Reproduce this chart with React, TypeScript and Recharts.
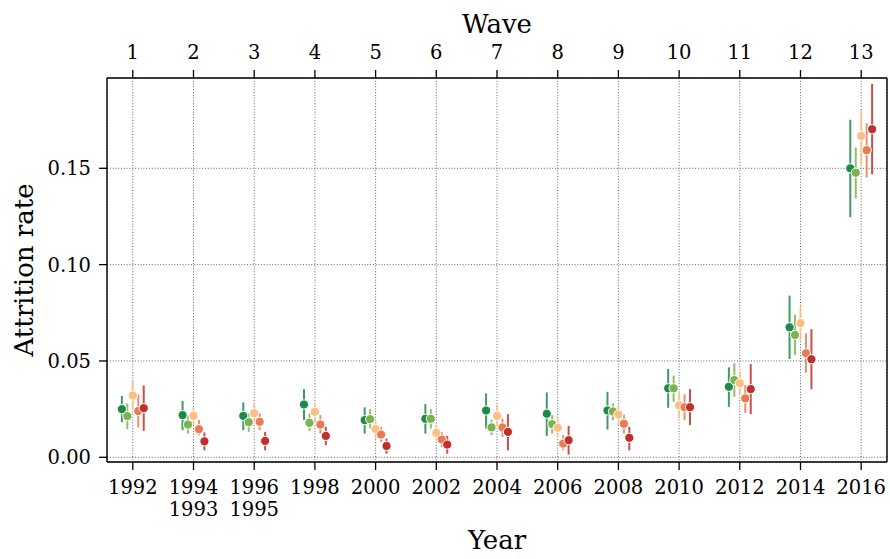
import React from 'react';
import { ScatterChart, Scatter, XAxis, YAxis, CartesianGrid, ErrorBar, Label } from 'recharts';

const waves = [1, 2, 3, 4, 5, 6, 7, 8, 9, 10, 11, 12, 13];
const yearLabels = ['1992', '1994', '1996', '1998', '2000', '2002', '2004', '2006', '2008', '2010', '2012', '2014', '2016'];
const yearLabels2 = ['', '1993', '1995', '', '', '', '', '', '', '', '', '', ''];
const yTicks = [0, 0.05, 0.1, 0.15];

const seriesNames = ['Group 1', 'Group 2', 'Group 3', 'Group 4', 'Group 5'];
const seriesColors = ['#1d8a48', '#7ab44f', '#fbbe84', '#e87b51', '#c0302b'];
const seriesOffsets = [-0.18, -0.09, 0, 0.09, 0.18];

const s1Value = [0.025, 0.0219, 0.0215, 0.0274, 0.0193, 0.02, 0.0243, 0.0226, 0.0243, 0.0358, 0.0366, 0.0675, 0.15];
const s1Low = [0.0182, 0.0141, 0.0141, 0.0193, 0.0123, 0.0123, 0.0149, 0.0111, 0.0144, 0.0257, 0.0262, 0.051, 0.1246];
const s1High = [0.0318, 0.0292, 0.0285, 0.0354, 0.0259, 0.0276, 0.0332, 0.0337, 0.034, 0.0458, 0.0467, 0.0839, 0.1752];

const s2Value = [0.0214, 0.017, 0.0182, 0.0179, 0.0198, 0.02, 0.0155, 0.0172, 0.0238, 0.0358, 0.0401, 0.0635, 0.1477];
const s2Low = [0.0146, 0.0123, 0.0132, 0.0137, 0.0149, 0.0149, 0.0115, 0.0123, 0.0193, 0.0288, 0.0314, 0.0531, 0.1344];
const s2High = [0.028, 0.0219, 0.0228, 0.0228, 0.025, 0.025, 0.0196, 0.0219, 0.028, 0.0424, 0.0488, 0.074, 0.1608];

const s3Value = [0.0321, 0.0215, 0.0229, 0.0236, 0.0146, 0.0127, 0.0215, 0.0153, 0.0222, 0.0269, 0.0384, 0.0696, 0.1668];
const s3Low = [0.025, 0.0167, 0.0176, 0.0184, 0.0097, 0.0089, 0.0158, 0.0106, 0.0167, 0.021, 0.0323, 0.0609, 0.1521];
const s3High = [0.0397, 0.026, 0.028, 0.028, 0.0184, 0.0167, 0.0271, 0.0201, 0.0274, 0.0332, 0.0444, 0.0786, 0.1804];

const s4Value = [0.024, 0.0146, 0.0184, 0.017, 0.0118, 0.0092, 0.0155, 0.0071, 0.0174, 0.026, 0.0306, 0.054, 0.1594];
const s4Low = [0.0155, 0.0115, 0.0141, 0.0123, 0.008, 0.0054, 0.0106, 0.0036, 0.0123, 0.0193, 0.0231, 0.0439, 0.1452];
const s4High = [0.0327, 0.0193, 0.0228, 0.0219, 0.0158, 0.0132, 0.0201, 0.0115, 0.0222, 0.0327, 0.0375, 0.0644, 0.1734];

const s5Value = [0.0255, 0.0083, 0.0085, 0.0111, 0.0059, 0.0066, 0.0132, 0.0089, 0.0101, 0.026, 0.0354, 0.0509, 0.1703];
const s5Low = [0.0137, 0.0036, 0.0036, 0.0063, 0.0019, 0.0019, 0.0036, 0.0014, 0.0036, 0.0167, 0.0224, 0.0353, 0.1469];
const s5High = [0.0373, 0.0129, 0.0132, 0.0158, 0.0097, 0.0111, 0.0224, 0.0163, 0.0158, 0.0354, 0.0484, 0.0665, 0.1938];

const seriesValues = [s1Value, s2Value, s3Value, s4Value, s5Value];
const seriesLows = [s1Low, s2Low, s3Low, s4Low, s5Low];
const seriesHighs = [s1High, s2High, s3High, s4High, s5High];

const FONT = '"DejaVu Serif", serif';
const TICK_FS = 19.5;
const LABEL_FS = 26;

const seriesData = seriesValues.map((vals, si) =>
  waves.map((w, i) => ({
    x: w + seriesOffsets[si],
    y: vals[i],
    err: [vals[i] - seriesLows[si][i], seriesHighs[si][i] - vals[i]],
  }))
);

// anchor data for the top "Wave" axis (no visible marks)
const waveAnchorData = waves.map((w, i) => ({ x: w, y: s3Value[i] }));

const BottomTick = (props: any) => {
  const { x, y, payload } = props;
  const idx = waves.indexOf(payload.value);
  const l1 = yearLabels[idx] ?? '';
  const l2 = yearLabels2[idx] ?? '';
  return (
    <text x={x} y={y} textAnchor="middle" fontSize={TICK_FS} fontFamily={FONT} fill="#000">
      <tspan x={x} dy={22}>{l1}</tspan>
      {l2 ? <tspan x={x} dy={22}>{l2}</tspan> : null}
    </text>
  );
};

const TopTick = (props: any) => {
  const { x, y, payload } = props;
  return (
    <text x={x} y={y} dy={-9.5} textAnchor="middle" fontSize={TICK_FS} fontFamily={FONT} fill="#000">
      {String(payload.value)}
    </text>
  );
};

const makeDot = (color: string) => (props: any) => {
  const { cx, cy } = props;
  if (cx == null || cy == null) return <g />;
  return <circle cx={cx} cy={cy} r={4.6} fill={color} stroke="#ffffff" strokeWidth={1} />;
};

const emptyShape = () => <g />;

const X_DOMAIN: [number, number] = [0.575, 13.425];
const Y_DOMAIN: [number, number] = [-0.00244, 0.19687];

export default function App() {
  return (
    <div>
      <style>{'body{margin:0;background:#fff;}'}</style>
      <ScatterChart width={890} height={559} margin={{ top: 0, right: 2, bottom: 0, left: 0 }}>
        <CartesianGrid
          xAxisId="bottom"
          yAxisId="left"
          stroke="#666"
          strokeWidth={1}
          strokeDasharray="1 1.8"
        />
        <XAxis
          xAxisId="bottom"
          type="number"
          dataKey="x"
          domain={X_DOMAIN}
          allowDataOverflow
          ticks={waves}
          interval={0}
          height={97}
          tickSize={8}
          tick={<BottomTick />}
          axisLine={{ stroke: '#000', strokeWidth: 1.4 }}
          tickLine={{ stroke: '#000', strokeWidth: 1.3 }}
        >
          <Label value="Year" position="center" dy={29} fontSize={LABEL_FS} fontFamily={FONT} fill="#000" />
        </XAxis>
        <XAxis
          xAxisId="top"
          orientation="top"
          type="number"
          dataKey="x"
          domain={X_DOMAIN}
          allowDataOverflow
          ticks={waves}
          interval={0}
          height={78}
          tickSize={8}
          tick={<TopTick />}
          axisLine={{ stroke: '#000', strokeWidth: 1.4 }}
          tickLine={{ stroke: '#000', strokeWidth: 1.3 }}
        >
          <Label value="Wave" position="center" dy={-15} fontSize={LABEL_FS} fontFamily={FONT} fill="#000" />
        </XAxis>
        <YAxis
          yAxisId="left"
          type="number"
          dataKey="y"
          domain={Y_DOMAIN}
          allowDataOverflow
          ticks={yTicks}
          interval={0}
          width={107}
          tickSize={8}
          tickMargin={8}
          tickFormatter={(v: number) => v.toFixed(2)}
          tick={{ fontSize: TICK_FS, fontFamily: FONT, fill: '#000' }}
          axisLine={{ stroke: '#000', strokeWidth: 1.4 }}
          tickLine={{ stroke: '#000', strokeWidth: 1.3 }}
        >
          <Label value="Attrition rate" position="center" angle={-90} dx={-30} fontSize={LABEL_FS} fontFamily={FONT} fill="#000" />
        </YAxis>
        <YAxis
          yAxisId="right"
          orientation="right"
          type="number"
          dataKey="y"
          domain={Y_DOMAIN}
          allowDataOverflow
          width={1}
          tick={false}
          tickLine={false}
          axisLine={{ stroke: '#000', strokeWidth: 1.4 }}
        />
        <Scatter
          name="wave-anchor"
          data={waveAnchorData}
          xAxisId="top"
          yAxisId="right"
          shape={emptyShape}
          legendType="none"
          isAnimationActive={false}
        />
        {seriesData.map((data, si) => (
          <Scatter
            key={seriesNames[si]}
            name={seriesNames[si]}
            data={data}
            xAxisId="bottom"
            yAxisId="left"
            fill={seriesColors[si]}
            shape={makeDot(seriesColors[si])}
            isAnimationActive={false}
          >
            <ErrorBar
              dataKey="err"
              direction="y"
              width={0}
              stroke={seriesColors[si]}
              strokeWidth={2}
              strokeOpacity={0.85}
              isAnimationActive={false}
            />
          </Scatter>
        ))}
      </ScatterChart>
    </div>
  );
}
